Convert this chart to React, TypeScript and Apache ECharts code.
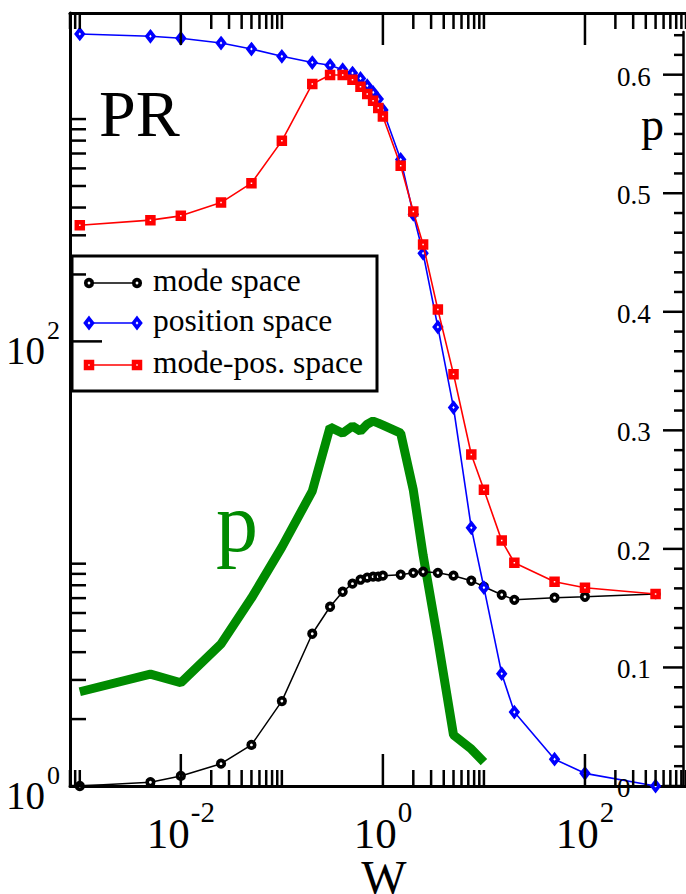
import React, { useEffect, useRef } from "react";
import * as echarts from "echarts";

// ---- data ----
const W = [0.001, 0.005, 0.01, 0.025, 0.05, 0.1, 0.2, 0.3, 0.4, 0.5, 0.6, 0.7, 0.8, 0.9, 1, 1.5, 2, 2.5, 3.5, 5, 7.5, 10, 15, 20, 50, 100, 500];
const modeSpace = [1.0, 1.04, 1.11, 1.26, 1.53, 2.41, 4.84, 6.4, 7.48, 8.13, 8.47, 8.65, 8.74, 8.74, 8.83, 8.92, 9.1, 9.2, 9.1, 8.83, 8.38, 7.88, 7.25, 6.88, 7.03, 7.1, 7.3];
const positionSpace = [2415, 2357, 2308, 2198, 2066, 1915, 1796, 1745, 1667, 1611, 1524, 1412, 1319, 1230, 1098, 658, 373, 249, 116, 50.4, 14.5, 7.8, 3.2, 2.15, 1.32, 1.14, 1.0];
const modePosSpace = [333, 351, 367, 421, 515, 798, 1438, 1578, 1578, 1503, 1397, 1296, 1209, 1121, 1028, 616, 384, 273, 139, 71.2, 31, 21.5, 12.7, 10.1, 8.3, 7.8, 7.3];

const pW = [0.001, 0.005, 0.01, 0.025, 0.05, 0.1, 0.2, 0.3, 0.4, 0.5, 0.6, 0.7, 0.8, 0.9, 1, 1.5, 2, 2.5, 3.5, 5, 7.5, 10];
const pValues = [0.0795, 0.0944, 0.0871, 0.1197, 0.1585, 0.2015, 0.2487, 0.3027, 0.2976, 0.3035, 0.2993, 0.3052, 0.3078, 0.3061, 0.3044, 0.2976, 0.2496, 0.1948, 0.1231, 0.043, 0.0312, 0.0202];

// ---- axes ----
const X_MIN = 8e-4;
const X_MAX = 1000;
const Y_MIN = 1;
const Y_MAX = 3000;
const P_MIN = 0;
const P_MAX = 0.636;

const xMajorTicks = [0.01, 1, 100];
const xMinorTicks = [8e-4, 9e-4, 1e-3, 0.02, 0.03, 0.04, 0.05, 0.06, 0.07, 0.08, 0.09, 0.1, 2, 3, 4, 5, 6, 7, 8, 9, 10, 200, 300, 400, 500, 600, 700, 800, 900, 1000];
const xTickExponents = ["-2", "0", "2"];

const yMajorTicks = [1, 100];
const yMinorTicks = [2, 3, 4, 5, 6, 7, 8, 9, 10, 200, 300, 400, 500, 600, 700, 800, 900, 1000];
const yTickExponents = ["0", "2"];

const pMajorTicks = [0, 0.1, 0.2, 0.3, 0.4, 0.5, 0.6];
const pTickLabels = ["0", "0.1", "0.2", "0.3", "0.4", "0.5", "0.6"];
const pMinorTicks = [
  0.0167, 0.0333, 0.05, 0.0667, 0.0833,
  0.1167, 0.1333, 0.15, 0.1667, 0.1833,
  0.2167, 0.2333, 0.25, 0.2667, 0.2833,
  0.3167, 0.3333, 0.35, 0.3667, 0.3833,
  0.4167, 0.4333, 0.45, 0.4667, 0.4833,
  0.5167, 0.5333, 0.55, 0.5667, 0.5833,
  0.6167, 0.6333,
];

const legendNames = ["mode space", "position space", "mode-pos. space"];

const SERIF = "'Liberation Serif', 'Times New Roman', serif";
const GREEN = "#008b00";
const BLUE = "#0000ff";
const RED = "#ff0000";

const font = (size: number) => `${size}px ${SERIF}`;

function charW(s: string, size: number) {
  let w = 0;
  for (const c of s) {
    if (c === "-") w += 0.333;
    else if (c === ".") w += 0.25;
    else w += 0.5;
  }
  return w * size;
}

function txt(text: string, x: number, y: number, size: number, align: string, fill = "#000", extra: any = {}) {
  return {
    type: "text",
    x,
    y,
    ...extra,
    style: { text, font: font(size), fontSize: size, fontFamily: SERIF, fill, align, verticalAlign: "middle" },
  };
}

export default function App() {
  const ref = useRef<HTMLDivElement>(null);

  useEffect(() => {
    if (!ref.current) return;
    const chart = echarts.init(ref.current, undefined, { renderer: "svg" });

    const tickStyle = { stroke: "#000", lineWidth: 2.5 };
    const hiddenAxisParts = {
      axisTick: { show: false },
      axisLabel: { show: false },
      splitLine: { show: false },
    };
    const frameLine = { show: true, onZero: false, lineStyle: { color: "#000", width: 3 } };

    const xTickData = [...xMajorTicks, ...xMinorTicks].map((v) => [v, Y_MIN]);
    const yTickData = [...yMajorTicks, ...yMinorTicks].map((v) => [X_MIN, v]);
    const pTickData = [...pMajorTicks, ...pMinorTicks].map((v) => [X_MAX, v]);

    const option: any = {
      animation: false,
      backgroundColor: "#fff",
      textStyle: { fontFamily: SERIF },
      grid: [
        { left: 70, top: 13, width: 617, height: 773 },
        { left: 70, top: 32, width: 617, height: 754 },
      ],
      xAxis: [
        { type: "log", gridIndex: 0, min: X_MIN, max: X_MAX, position: "bottom", axisLine: frameLine, ...hiddenAxisParts },
        { type: "log", gridIndex: 0, min: X_MIN, max: X_MAX, position: "top", axisLine: frameLine, ...hiddenAxisParts },
        { type: "log", gridIndex: 1, min: X_MIN, max: X_MAX, show: false },
      ],
      yAxis: [
        { type: "log", gridIndex: 0, min: Y_MIN, max: Y_MAX, position: "left", axisLine: frameLine, ...hiddenAxisParts },
        { type: "value", gridIndex: 1, min: P_MIN, max: P_MAX, position: "right", offset: -3, axisLine: { show: true, lineStyle: { color: "#000", width: 2.5 } }, ...hiddenAxisParts },
      ],
      series: [
        {
          name: "p",
          type: "line",
          xAxisIndex: 2,
          yAxisIndex: 1,
          data: pW.map((w, i) => [w, pValues[i]]),
          symbol: "none",
          lineStyle: { color: GREEN, width: 9 },
          clip: false,
          z: 2,
          silent: true,
        },
        {
          name: legendNames[0],
          type: "line",
          xAxisIndex: 0,
          yAxisIndex: 0,
          data: W.map((w, i) => [w, modeSpace[i]]),
          symbol: "circle",
          symbolSize: 6.5,
          showAllSymbol: true,
          itemStyle: { color: "#fff", borderColor: "#000", borderWidth: 3.7 },
          lineStyle: { color: "#000", width: 1.5 },
          clip: false,
          z: 3,
        },
        {
          name: legendNames[1],
          type: "line",
          xAxisIndex: 0,
          yAxisIndex: 0,
          data: W.map((w, i) => [w, positionSpace[i]]),
          symbol: "diamond",
          symbolSize: [7, 9],
          showAllSymbol: true,
          itemStyle: { color: "#fff", borderColor: BLUE, borderWidth: 3.6 },
          lineStyle: { color: BLUE, width: 1.6 },
          clip: false,
          z: 4,
        },
        {
          name: legendNames[2],
          type: "line",
          xAxisIndex: 0,
          yAxisIndex: 0,
          data: W.map((w, i) => [w, modePosSpace[i]]),
          symbol: "rect",
          symbolSize: 6,
          showAllSymbol: true,
          itemStyle: { color: "#fff", borderColor: RED, borderWidth: 4.5 },
          lineStyle: { color: RED, width: 1.6 },
          clip: false,
          z: 5,
        },
        // x ticks (bottom and top)
        {
          type: "custom",
          xAxisIndex: 0,
          yAxisIndex: 0,
          data: xTickData,
          silent: true,
          clip: false,
          z: 6,
          renderItem: (params: any, api: any) => {
            const v = api.value(0);
            const major = params.dataIndex < xMajorTicks.length;
            const len = major ? 32 : 16;
            const b = api.coord([v, Y_MIN]);
            const t = api.coord([v, Y_MAX]);
            return {
              type: "group",
              children: [
                { type: "line", shape: { x1: b[0], y1: b[1], x2: b[0], y2: b[1] - len }, style: tickStyle },
                { type: "line", shape: { x1: t[0], y1: t[1], x2: t[0], y2: t[1] + len }, style: tickStyle },
              ],
            };
          },
        },
        // y ticks (left)
        {
          type: "custom",
          xAxisIndex: 0,
          yAxisIndex: 0,
          data: yTickData,
          silent: true,
          clip: false,
          z: 6,
          renderItem: (params: any, api: any) => {
            const v = api.value(1);
            const major = params.dataIndex < yMajorTicks.length;
            const len = major ? 32 : 16;
            const p = api.coord([X_MIN, v]);
            return { type: "line", shape: { x1: p[0], y1: p[1], x2: p[0] + len, y2: p[1] }, style: tickStyle };
          },
        },
        // p ticks (right)
        {
          type: "custom",
          xAxisIndex: 2,
          yAxisIndex: 1,
          data: pTickData,
          silent: true,
          clip: false,
          z: 6,
          renderItem: (params: any, api: any) => {
            const v = api.value(1);
            const major = params.dataIndex < pMajorTicks.length;
            const len = major ? 20 : 9;
            const p = api.coord([X_MAX, v]);
            const x = p[0] - 3;
            return { type: "line", shape: { x1: x, y1: p[1], x2: x - len, y2: p[1] }, style: tickStyle };
          },
        },
        // x tick labels
        {
          type: "custom",
          xAxisIndex: 0,
          yAxisIndex: 0,
          data: xMajorTicks.map((v) => [v, Y_MIN]),
          silent: true,
          clip: false,
          z: 7,
          renderItem: (params: any, api: any) => {
            const exp = xTickExponents[params.dataIndex];
            const b = api.coord([api.value(0), Y_MIN]);
            const mainSize = 43;
            const expSize = 29;
            const total = mainSize + 1 + charW(exp, expSize);
            const start = b[0] - total / 2;
            return {
              type: "group",
              children: [
                txt("10", start + mainSize, b[1] + 47, mainSize, "right"),
                txt(exp, start + mainSize + 1, b[1] + 26, expSize, "left"),
              ],
            };
          },
        },
        // y tick labels
        {
          type: "custom",
          xAxisIndex: 0,
          yAxisIndex: 0,
          data: yMajorTicks.map((v) => [X_MIN, v]),
          silent: true,
          clip: false,
          z: 7,
          renderItem: (params: any, api: any) => {
            const exp = yTickExponents[params.dataIndex];
            const p = api.coord([X_MIN, api.value(1)]);
            return {
              type: "group",
              children: [
                txt("10", p[0] - 25, p[1] + 9, 39, "right"),
                txt(exp, p[0] - 23, p[1] - 10.5, 26, "left"),
              ],
            };
          },
        },
        // p tick labels
        {
          type: "custom",
          xAxisIndex: 2,
          yAxisIndex: 1,
          data: pMajorTicks.map((v) => [X_MAX, v]),
          silent: true,
          clip: false,
          z: 7,
          renderItem: (params: any, api: any) => {
            const p = api.coord([X_MAX, api.value(1)]);
            return txt(pTickLabels[params.dataIndex], p[0] - 69, p[1] + 2, 27, "left");
          },
        },
      ],
      graphic: [
        txt("PR", 99, 113, 66, "left", "#000", { z: 50 }),
        txt("p", 641, 124, 46, "left", "#000", { z: 50 }),
        txt("p", 216, 522, 84, "left", GREEN, { z: 50 }),
        txt("W", 384, 877, 48, "center", "#000", { z: 50 }),
        {
          type: "group",
          z: 100,
          children: [
            { type: "rect", shape: { x: 72, y: 256, width: 305, height: 135 }, style: { fill: "#fff", stroke: "#000", lineWidth: 3 } },
            // mode space
            { type: "line", shape: { x1: 89, y1: 283, x2: 137, y2: 283 }, style: { stroke: "#000", lineWidth: 1.5 } },
            { type: "circle", shape: { cx: 89, cy: 283, r: 3.25 }, style: { fill: "#fff", stroke: "#000", lineWidth: 3.7 } },
            { type: "circle", shape: { cx: 137, cy: 283, r: 3.25 }, style: { fill: "#fff", stroke: "#000", lineWidth: 3.7 } },
            txt(legendNames[0], 153, 280, 31.5, "left"),
            // position space
            { type: "line", shape: { x1: 89, y1: 323, x2: 137, y2: 323 }, style: { stroke: BLUE, lineWidth: 1.6 } },
            { type: "polygon", shape: { points: [[89, 318.5], [92.5, 323], [89, 327.5], [85.5, 323]] }, style: { fill: "#fff", stroke: BLUE, lineWidth: 3.6 } },
            { type: "polygon", shape: { points: [[137, 318.5], [140.5, 323], [137, 327.5], [133.5, 323]] }, style: { fill: "#fff", stroke: BLUE, lineWidth: 3.6 } },
            txt(legendNames[1], 153, 320, 31.5, "left"),
            // mode-pos. space
            { type: "line", shape: { x1: 89, y1: 365, x2: 137, y2: 365 }, style: { stroke: RED, lineWidth: 1.6 } },
            { type: "rect", shape: { x: 86, y: 362, width: 6, height: 6 }, style: { fill: "#fff", stroke: RED, lineWidth: 4.5 } },
            { type: "rect", shape: { x: 134, y: 362, width: 6, height: 6 }, style: { fill: "#fff", stroke: RED, lineWidth: 4.5 } },
            txt(legendNames[2], 153, 362, 31.5, "left"),
          ],
        },
      ],
    };

    chart.setOption(option);
    return () => {
      chart.dispose();
    };
  }, []);

  return (
    <div
      ref={ref}
      style={{ position: "absolute", left: 0, top: 0, width: 686, height: 894, background: "#fff" }}
    />
  );
}
